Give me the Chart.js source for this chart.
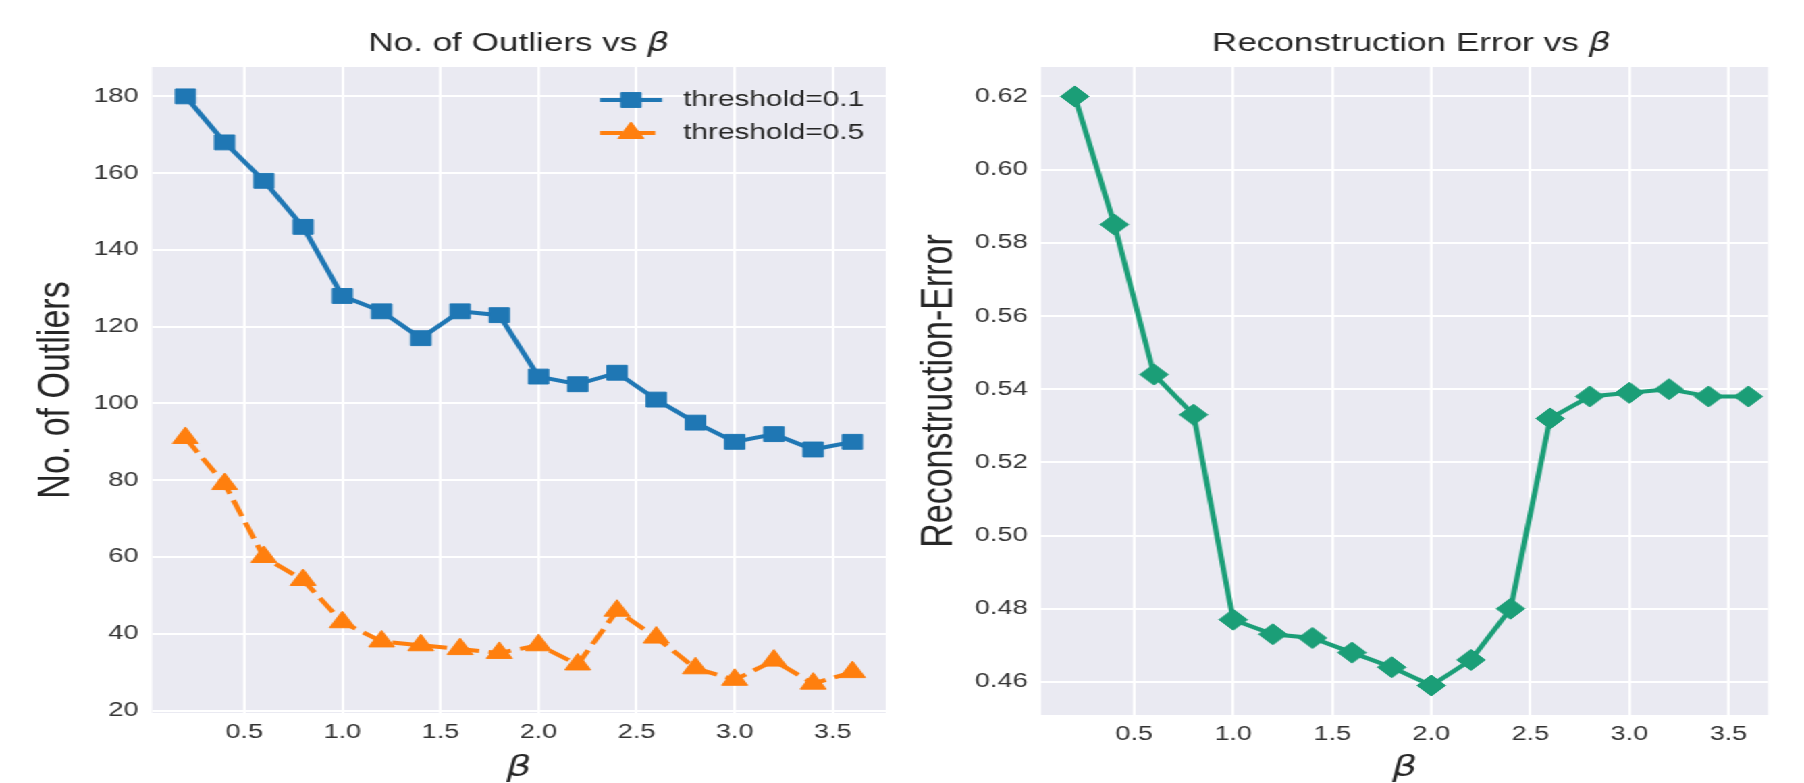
<!DOCTYPE html>
<html>
<head>
<meta charset="utf-8">
<title>Outliers and reconstruction error vs beta</title>
<script src="https://cdn.jsdelivr.net/npm/chart.js@4.4.1/dist/chart.umd.min.js"></script>
<style>
  html, body { margin: 0; padding: 0; background: #ffffff; overflow: hidden; }
  /* the source figure is stretched sideways, so the whole stage is too */
  #stage { position: absolute; left: 0; top: 0; width: 1336px; height: 783px;
           transform: scaleX(1.3503); transform-origin: 0 0; }
  .panel { position: absolute; top: 0; width: 668px; height: 783px; }
  #leftPanel { left: 0; }
  #rightPanel { left: 668px; }
</style>
</head>
<body>
<div id="stage">
  <div class="panel" id="leftPanel"><canvas id="outliersChart"></canvas></div>
  <div class="panel" id="rightPanel"><canvas id="errorChart"></canvas></div>
</div>
<script>
// --- data ---
const betaValues = [0.2, 0.4, 0.6, 0.8, 1.0, 1.2, 1.4, 1.6, 1.8, 2.0, 2.2, 2.4, 2.6, 2.8, 3.0, 3.2, 3.4, 3.6];
const outliersThreshold01 = [180, 168, 158, 146, 128, 124, 117, 124, 123, 107, 105, 108, 101, 95, 90, 92, 88, 90];
const outliersThreshold05 = [91, 79, 60, 54, 43, 38, 37, 36, 35, 37, 32, 46, 39, 31, 28, 33, 27, 30];
const reconstructionError = [0.620, 0.585, 0.544, 0.533, 0.477, 0.473, 0.472, 0.468, 0.464, 0.459,
                             0.466, 0.480, 0.532, 0.538, 0.539, 0.540, 0.538, 0.538];

// tick labels
const betaTicks = [0.5, 1.0, 1.5, 2.0, 2.5, 3.0, 3.5];
const outlierTicks = [20, 40, 60, 80, 100, 120, 140, 160, 180];
const errorTicks = [0.46, 0.48, 0.50, 0.52, 0.54, 0.56, 0.58, 0.60, 0.62];

// --- style (seaborn darkgrid look) ---
const SANS = '"Liberation Sans", Arial, Helvetica, sans-serif';
const FACE = '#EAEAF2';
const TEXT = '#262626';
const TICK = '#333333';
const BLUE = '#1f77b4';
const ORANGE = '#ff7f0e';
const GREEN = '#1b9e77';

Chart.defaults.font.family = SANS;

const toPoints = values => betaValues.map((b, i) => ({ x: b, y: values[i] }));

// grey axes background
const facePlugin = {
  id: 'axesFace',
  beforeDraw(chart) {
    const { ctx, chartArea: a } = chart;
    ctx.save();
    ctx.fillStyle = FACE;
    ctx.fillRect(a.left, a.top, a.right - a.left, a.bottom - a.top);
    ctx.restore();
  }
};

// title with an italic beta at the end
const titlePlugin = {
  id: 'mathTitle',
  afterDraw(chart, args, opts) {
    const ctx = chart.ctx;
    const cx = chart.scales.x.getPixelForValue(opts.centerValue);
    const mainFont = `${opts.size}px ${SANS}`;
    const betaFont = `italic ${opts.size}px "DejaVu Sans"`;
    ctx.save();
    ctx.textBaseline = 'middle';
    ctx.textAlign = 'left';
    ctx.font = mainFont;
    const w1 = ctx.measureText(opts.text).width;
    ctx.font = betaFont;
    const w2 = ctx.measureText('\u03B2').width;
    const left = cx - (w1 + w2) / 2;
    ctx.fillStyle = TEXT;
    ctx.font = mainFont;
    ctx.fillText(opts.text, left, opts.y);
    ctx.font = betaFont;
    ctx.fillText('\u03B2', left + w1, opts.y);
    ctx.restore();
  }
};

// matplotlib-style legend sitting inside the axes, upper right
const legendPlugin = {
  id: 'innerLegend',
  afterDraw(chart, args, opts) {
    if (!opts.display) return;
    const ctx = chart.ctx;
    chart.data.datasets.forEach((ds, i) => {
      const y = opts.y + i * opts.rowGap;
      const mid = (opts.lineStart + opts.lineEnd) / 2;
      ctx.save();
      ctx.strokeStyle = ds.borderColor;
      ctx.lineWidth = ds.borderWidth;
      ctx.setLineDash(ds.borderDash || []);
      ctx.beginPath();
      ctx.moveTo(opts.lineStart, y);
      ctx.lineTo(opts.lineEnd, y);
      ctx.stroke();
      ctx.setLineDash([]);
      ctx.fillStyle = ds.pointBackgroundColor;
      ctx.strokeStyle = ds.pointBorderColor;
      ctx.lineWidth = ds.pointBorderWidth;
      Chart.helpers.drawPoint(ctx, {
        pointStyle: ds.pointStyle, radius: ds.pointRadius, rotation: 0, borderWidth: ds.pointBorderWidth
      }, mid, y);
      ctx.fillStyle = TEXT;
      ctx.font = `${opts.size}px ${SANS}`;
      ctx.textBaseline = 'middle';
      ctx.textAlign = 'left';
      ctx.fillText(ds.label, opts.textX, y);
      ctx.restore();
    });
  }
};

function makeSeries(label, values, color, pointStyle, radius, dash) {
  return {
    label: label,
    data: toPoints(values),
    borderColor: color,
    backgroundColor: color,
    borderWidth: 4,
    borderDash: dash || [],
    pointStyle: pointStyle,
    pointRadius: radius,
    pointBackgroundColor: color,
    pointBorderColor: color,
    pointBorderWidth: 1,
    tension: 0,
    fill: false
  };
}

function makeChart(canvasId, datasets, cfg) {
  const ctx = document.getElementById(canvasId).getContext('2d');
  return new Chart(ctx, {
    type: 'line',
    data: { datasets: datasets },
    plugins: [facePlugin, titlePlugin, legendPlugin],
    options: {
      responsive: true,
      maintainAspectRatio: false,
      animation: false,
      events: [],
      layout: { padding: { top: 67, left: 0, right: cfg.padRight, bottom: 0 } },
      plugins: {
        legend: { display: false },
        tooltip: { enabled: false },
        title: { display: false },
        mathTitle: { text: cfg.title, size: 26, y: 44, centerValue: 1.9 },
        innerLegend: cfg.legend || { display: false }
      },
      scales: {
        x: {
          type: 'linear',
          min: 0.03,
          max: cfg.xMax,
          afterFit: s => { s.height = cfg.xAxisHeight; },
          afterBuildTicks: s => { s.ticks = betaTicks.map(v => ({ value: v })); },
          ticks: {
            padding: 7, color: TICK, autoSkip: false, maxRotation: 0,
            font: { family: SANS, size: 20, lineHeight: 1.2 },
            callback: v => Number(v).toFixed(1)
          },
          grid: { color: '#ffffff', lineWidth: 2, drawTicks: false },
          border: { display: false },
          title: {
            display: true, text: '\u03B2', color: TEXT,
            font: { family: '"DejaVu Sans"', size: 29, style: 'italic', lineHeight: 1 },
            padding: { top: 0, bottom: 0 }
          }
        },
        y: {
          type: 'linear',
          min: cfg.yMin,
          max: cfg.yMax,
          afterFit: s => { s.width = cfg.yAxisWidth; },
          afterBuildTicks: s => { s.ticks = cfg.yTicks.map(v => ({ value: v })); },
          ticks: {
            padding: 10, color: TICK, autoSkip: false,
            font: { family: SANS, size: 20, lineHeight: 1.2 },
            callback: v => Number(v).toFixed(cfg.yDecimals)
          },
          grid: { color: '#ffffff', lineWidth: 2, drawTicks: false },
          border: { display: false },
          title: {
            display: true, text: cfg.yTitle, color: TEXT,
            font: { family: SANS, size: 34, lineHeight: 1.2 },
            padding: { top: cfg.yTitlePad, bottom: 0 }
          }
        }
      }
    }
  });
}

makeChart('outliersChart', [
  makeSeries('threshold=0.1', outliersThreshold01, BLUE, 'rect', 10.5),
  makeSeries('threshold=0.5', outliersThreshold05, ORANGE, 'triangle', 11, [17, 7])
], {
  title: 'No. of Outliers vs ',
  yTitle: 'No. of Outliers',
  yMin: 19.35, yMax: 187.65, yTicks: outlierTicks, yDecimals: 0,
  xMax: 3.77,
  padRight: 6.7, yAxisWidth: 112.6, xAxisHeight: 70, yTitlePad: 21,
  legend: { display: true, y: 100, rowGap: 33, lineStart: 444.3, lineEnd: 490.3, textX: 506, size: 22 }
});

makeChart('errorChart', [
  makeSeries('Reconstruction-Error', reconstructionError, GREEN, 'rectRot', 10.5)
], {
  title: 'Reconstruction Error vs ',
  yTitle: 'Reconstruction-Error',
  yMin: 0.45095, yMax: 0.62805, yTicks: errorTicks, yDecimals: 2,
  xMax: 3.70,
  padRight: 26.6, yAxisWidth: 103, xAxisHeight: 68, yTitlePad: 7
});
</script>
</body>
</html>
